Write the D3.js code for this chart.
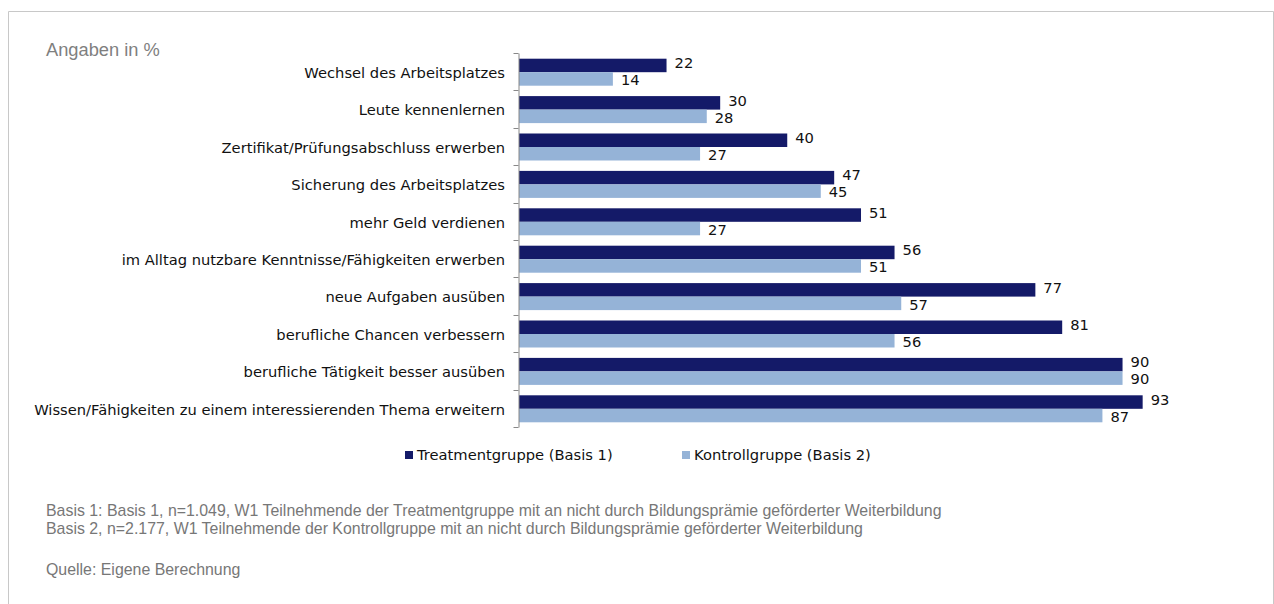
<!DOCTYPE html>
<html>
<head>
<meta charset="utf-8">
<script src="https://cdn.jsdelivr.net/npm/d3@7"></script>
<style>
  html, body { margin: 0; padding: 0; background: #fff; }
  svg { display: block; }
</style>
</head>
<body>
<svg id="chart" width="1274" height="604"></svg>
<script>
// Motive für Weiterbildung – Anteile in %
const categories = [
  "Wechsel des Arbeitsplatzes",
  "Leute kennenlernen",
  "Zertifikat/Prüfungsabschluss erwerben",
  "Sicherung des Arbeitsplatzes",
  "mehr Geld verdienen",
  "im Alltag nutzbare Kenntnisse/Fähigkeiten erwerben",
  "neue Aufgaben ausüben",
  "berufliche Chancen verbessern",
  "berufliche Tätigkeit besser ausüben",
  "Wissen/Fähigkeiten zu einem interessierenden Thema erweitern"
];
const treatment = [22, 30, 40, 47, 51, 56, 77, 81, 90, 93];
const kontroll  = [14, 28, 27, 45, 27, 51, 57, 56, 90, 87];
const seriesNames = ["Treatmentgruppe (Basis 1)", "Kontrollgruppe (Basis 2)"];
const footnotes = [
  "Basis 1: Basis 1, n=1.049, W1 Teilnehmende der Treatmentgruppe mit an nicht durch Bildungsprämie geförderter Weiterbildung",
  "Basis 2, n=2.177, W1 Teilnehmende der Kontrollgruppe mit an nicht durch Bildungsprämie geförderter Weiterbildung"
];
const sourceNote = "Quelle: Eigene Berechnung";
const unitNote = "Angaben in %";

const colors = ["#141a68", "#95b3d7"];
const chartFont = "DejaVu Sans, Verdana, sans-serif";
const noteFont = "Liberation Sans, Arial, sans-serif";
const labelSize = 14.7;
const svg = d3.select("#chart");

// outer frame (top, left, right edges)
svg.append("path")
  .attr("d", "M8.5,604 V11.5 H1273.5 V604")
  .attr("fill", "none")
  .attr("stroke", "#c8c8c8")
  .attr("stroke-width", 1);

const x0 = 519, yTop = 53, yBot = 427;
const x = d3.scaleLinear().domain([0, 100]).range([x0, x0 + 670.6]);
const y = d3.scaleBand().domain(categories).range([yTop, yBot]);
const inner = d3.scaleBand().domain([0, 1]).range([0, 27]);
const barOffset = (y.bandwidth() - 27) / 2 + 0.5;
const labelShift = [-2.5, 1];

const rows = categories.map((c, i) => ({ c, vals: [treatment[i], kontroll[i]] }));

const g = svg.append("g");
const rowG = g.selectAll("g.row").data(rows).join("g")
  .attr("class", "row")
  .attr("transform", d => `translate(0,${y(d.c) + barOffset})`);

rowG.selectAll("rect").data(d => d.vals).join("rect")
  .attr("x", x(0))
  .attr("y", (v, j) => inner(j))
  .attr("width", v => x(v) - x(0))
  .attr("height", inner.bandwidth())
  .attr("fill", (v, j) => colors[j]);

rowG.selectAll("text").data(d => d.vals).join("text")
  .attr("x", v => x(v) + 8)
  .attr("y", (v, j) => inner(j) + inner.bandwidth() / 2 + labelShift[j])
  .attr("dy", "0.36em")
  .attr("font-family", chartFont)
  .attr("font-size", labelSize)
  .attr("fill", "#111")
  .text(v => v);

// category axis: vertical line with ticks between categories
const axG = svg.append("g").attr("transform", `translate(${x0 - 0.5},0)`);
axG.call(d3.axisLeft(y).tickSize(0).tickSizeOuter(0).tickFormat(() => ""));
axG.selectAll(".tick").remove();
axG.select("path.domain").attr("stroke", "#888");
axG.selectAll("line.b").data(d3.range(categories.length + 1)).join("line")
  .attr("class", "b")
  .attr("x1", -5).attr("x2", 0)
  .attr("y1", i => Math.round(yTop + i * y.step()) + 0.5)
  .attr("y2", i => Math.round(yTop + i * y.step()) + 0.5)
  .attr("stroke", "#888");

svg.append("g").selectAll("text").data(categories).join("text")
  .attr("x", x0 - 14)
  .attr("y", d => y(d) + y.bandwidth() / 2 + 1)
  .attr("dy", "0.36em")
  .attr("text-anchor", "end")
  .attr("font-family", chartFont)
  .attr("font-size", labelSize)
  .attr("fill", "#111")
  .text(d => d);

// legend
const legendX = [405, 682];
const lg = svg.append("g").selectAll("g").data(seriesNames).join("g")
  .attr("transform", (d, i) => `translate(${legendX[i]},451)`);
lg.append("rect").attr("width", 8).attr("height", 8).attr("fill", (d, i) => colors[i]);
lg.append("text")
  .attr("x", 12).attr("y", 4).attr("dy", "0.36em")
  .attr("font-family", chartFont)
  .attr("font-size", labelSize)
  .attr("fill", "#111")
  .text(d => d);

// notes
svg.append("text")
  .attr("x", 46).attr("y", 56)
  .attr("font-family", noteFont)
  .attr("font-size", 18.3)
  .attr("fill", "#7f7f7f")
  .text(unitNote);

svg.append("g").selectAll("text").data(footnotes).join("text")
  .attr("x", 46).attr("y", (d, i) => 516 + i * 18)
  .attr("font-family", noteFont)
  .attr("font-size", 15.9)
  .attr("fill", "#777")
  .text(d => d);

svg.append("text")
  .attr("x", 46).attr("y", 575)
  .attr("font-family", noteFont)
  .attr("font-size", 15.9)
  .attr("fill", "#777")
  .text(sourceNote);
</script>
</body>
</html>
